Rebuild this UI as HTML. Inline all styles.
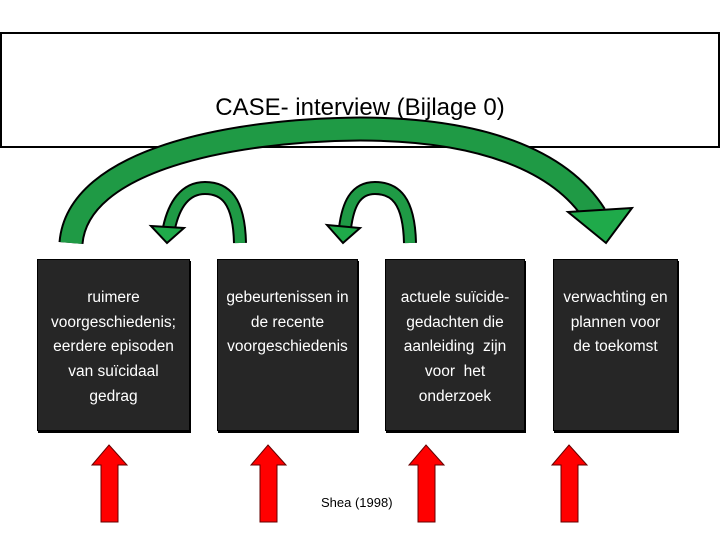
<!DOCTYPE html>
<html><head><meta charset="utf-8"><style>
body{margin:0;width:720px;height:540px;background:#fff;position:relative;overflow:hidden;font-family:"Liberation Sans",sans-serif}
.top{position:absolute;left:0;top:32px;width:716px;height:112px;border:2px solid #000;background:#fff}
.top span{position:absolute;left:0;right:0;top:60px;text-align:center;font-size:24px;color:#000}
.b{position:absolute;top:259px;height:172px;background:#262626;border:1px solid #000;box-shadow:1px 2px 0 #000;color:#fff;text-align:center;font-size:15.5px;line-height:24.7px;padding-top:26px;box-sizing:border-box;white-space:nowrap}
.s{position:absolute;left:321px;top:495px;font-size:13px;color:#000}
</style></head><body>
<div class="top"><span>CASE- interview (Bijlage 0)</span></div>
<svg width="720" height="540" style="position:absolute;left:0;top:0">
<g fill="none" stroke-linecap="butt">
<path d="M71,243 C78,160 230,130 360,129 C480,129 560,160 595,215" stroke="#000" stroke-width="25"/>
<path d="M71,243 C78,160 230,130 360,129 C480,129 560,160 595,215" stroke="#1f9a45" stroke-width="21"/>
<path d="M240,243 C239,200 225,188 205,188 C185,188 174,205 169,228" stroke="#000" stroke-width="14"/>
<path d="M240,243 C239,200 225,188 205,188 C185,188 174,205 169,228" stroke="#1f9a45" stroke-width="10"/>
<path d="M410,243 C409,200 395,188 375,188 C355,188 348,205 345,228" stroke="#000" stroke-width="14"/>
<path d="M410,243 C409,200 395,188 375,188 C355,188 348,205 345,228" stroke="#1f9a45" stroke-width="10"/>
</g>
<polygon points="568,212 632,208 606,243" fill="#1faa4a" stroke="#000" stroke-width="2"/>
<polygon points="151,226 184,228 167,243" fill="#1faa4a" stroke="#000" stroke-width="2"/>
<polygon points="327,225 360,228 343,243" fill="#1faa4a" stroke="#000" stroke-width="2"/>
<g fill="#f00" stroke="#600" stroke-width="1">
<polygon points="109,445 127,465 118,465 118,522 101,522 101,465 92,465"/>
<polygon points="268,445 286,465 277,465 277,522 260,522 260,465 251,465"/>
<polygon points="426,445 444,465 435,465 435,522 418,522 418,465 409,465"/>
<polygon points="569,445 587,465 578,465 578,522 561,522 561,465 552,465"/>
</g>
</svg>
<div class="b" style="left:37px;width:153px">ruimere<br>voorgeschiedenis;<br>eerdere episoden<br>van suïcidaal<br>gedrag</div>
<div class="b" style="left:217px;width:141px">gebeurtenissen in<br>de recente<br>voorgeschiedenis</div>
<div class="b" style="left:385px;width:140px">actuele suïcide-<br>gedachten die<br>aanleiding&nbsp; zijn<br>voor&nbsp; het<br>onderzoek</div>
<div class="b" style="left:553px;width:125px">verwachting en<br>plannen voor<br>de toekomst</div>
<div class="s">Shea (1998)</div>
</body></html>
